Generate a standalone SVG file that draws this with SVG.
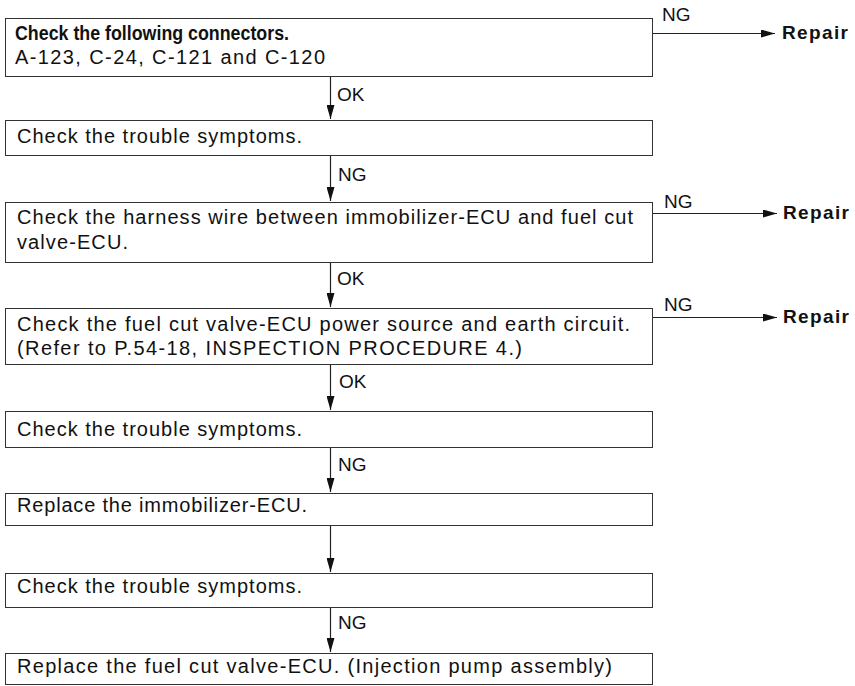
<svg xmlns="http://www.w3.org/2000/svg" width="855" height="686" viewBox="0 0 855 686">
<defs>
<style>
.box{fill:#fff;stroke:#333;stroke-width:1}
.t{font-family:"Liberation Sans",Arial,sans-serif;font-size:20px;fill:#111}
.b{font-weight:bold;font-size:19.5px}
.rp{font-family:"Liberation Sans",Arial,sans-serif;font-size:19px;font-weight:bold;fill:#111}
.lbl{font-family:"Liberation Sans",Arial,sans-serif;font-size:19px;fill:#111}
.c{stroke:#222;stroke-width:1.2;fill:none;marker-end:url(#ah)}
</style>
<marker id="ah" viewBox="0 0 14 8" refX="14" refY="4" markerWidth="14" markerHeight="8" markerUnits="userSpaceOnUse" orient="auto">
<path d="M0,0 L14,4 L0,8 z" fill="#111"/>
</marker>
</defs>
<rect width="855" height="686" fill="#fff"/>

<g id="n1">
<rect class="box" x="5.5" y="18.5" width="647" height="58"/>
<text class="t b" x="15" y="40" textLength="274" lengthAdjust="spacingAndGlyphs">Check the following connectors.</text>
<text class="t" x="15" y="64" textLength="310" lengthAdjust="spacing">A-123, C-24, C-121 and C-120</text>
</g>
<g id="n2">
<rect class="box" x="5.5" y="120.5" width="647" height="35"/>
<text class="t" x="17" y="143" textLength="285" lengthAdjust="spacing">Check the trouble symptoms.</text>
</g>
<g id="n3">
<rect class="box" x="5.5" y="202.5" width="647" height="60"/>
<text class="t" x="17" y="224" textLength="616" lengthAdjust="spacing">Check the harness wire between immobilizer-ECU and fuel cut</text>
<text class="t" x="17" y="249" textLength="111" lengthAdjust="spacing">valve-ECU.</text>
</g>
<g id="n4">
<rect class="box" x="5.5" y="308.5" width="647" height="56"/>
<text class="t" x="17" y="331" textLength="613" lengthAdjust="spacing">Check the fuel cut valve-ECU power source and earth circuit.</text>
<text class="t" x="17" y="355" textLength="505" lengthAdjust="spacing">(Refer to P.54-18, INSPECTION PROCEDURE 4.)</text>
</g>
<g id="n5">
<rect class="box" x="5.5" y="411.5" width="647" height="36"/>
<text class="t" x="17" y="436" textLength="285" lengthAdjust="spacing">Check the trouble symptoms.</text>
</g>
<g id="n6">
<rect class="box" x="5.5" y="493.5" width="647" height="32"/>
<text class="t" x="17" y="512" textLength="290" lengthAdjust="spacing">Replace the immobilizer-ECU.</text>
</g>
<g id="n7">
<rect class="box" x="5.5" y="573.5" width="647" height="34"/>
<text class="t" x="17" y="593" textLength="285" lengthAdjust="spacing">Check the trouble symptoms.</text>
</g>
<g id="n8">
<rect class="box" x="5.5" y="653.5" width="647" height="31"/>
<text class="t" x="17" y="673" textLength="595" lengthAdjust="spacing">Replace the fuel cut valve-ECU. (Injection pump assembly)</text>
</g>
<g id="r1"><text class="rp" x="782" y="39" textLength="66" lengthAdjust="spacing">Repair</text></g>
<g id="r2"><text class="rp" x="783" y="219" textLength="66" lengthAdjust="spacing">Repair</text></g>
<g id="r3"><text class="rp" x="783" y="323" textLength="66" lengthAdjust="spacing">Repair</text></g>

<g id="connectors">
<line class="c" x1="330.5" y1="77" x2="330.5" y2="119"/>
<line class="c" x1="330.5" y1="156" x2="330.5" y2="201"/>
<line class="c" x1="330.5" y1="263" x2="330.5" y2="307"/>
<line class="c" x1="330.5" y1="365" x2="330.5" y2="410"/>
<line class="c" x1="330.5" y1="448" x2="330.5" y2="492"/>
<line class="c" x1="330.5" y1="526" x2="330.5" y2="572"/>
<line class="c" x1="330.5" y1="608" x2="330.5" y2="652"/>
<line class="c" x1="653" y1="33.5" x2="775" y2="33.5"/>
<line class="c" x1="653" y1="213.5" x2="777" y2="213.5"/>
<line class="c" x1="653" y1="317.5" x2="777" y2="317.5"/>
<text class="lbl" x="337" y="101">OK</text>
<text class="lbl" x="338" y="181">NG</text>
<text class="lbl" x="337" y="285">OK</text>
<text class="lbl" x="339" y="388">OK</text>
<text class="lbl" x="338" y="471">NG</text>
<text class="lbl" x="338" y="629">NG</text>
<text class="lbl" x="662" y="21">NG</text>
<text class="lbl" x="664" y="208">NG</text>
<text class="lbl" x="664" y="311">NG</text>
</g>
</svg>
